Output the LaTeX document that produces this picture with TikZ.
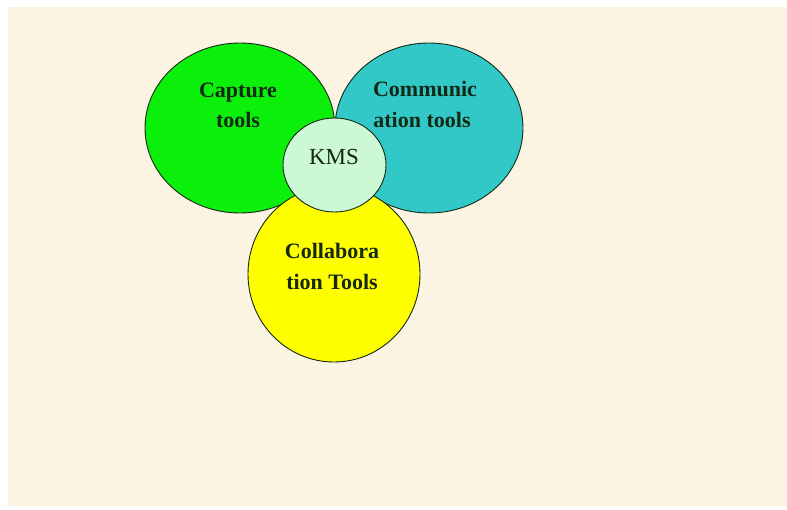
\documentclass[tikz,border=0pt]{standalone}
\usepackage{fontspec}
\setmainfont{Liberation Serif}
\usetikzlibrary{shapes.geometric}
\definecolor{bgbeige}{HTML}{FCF4E2}
\definecolor{capgreen}{HTML}{0BF00B}
\definecolor{comteal}{HTML}{33C8C8}
\definecolor{colyellow}{HTML}{FFFF00}
\definecolor{kmsgreen}{HTML}{CCF8D4}
\definecolor{inkdark}{HTML}{142814}
\tikzset{
  blob/.style={ellipse, draw=inkdark, line width=0.9pt, inner sep=0pt},
  lbl/.style={anchor=base, text=inkdark, font=\fontsize{22}{26}\selectfont\bfseries, inner sep=0pt},
  kmslbl/.style={anchor=base, text=inkdark, font=\fontsize{23}{27}\selectfont, inner sep=0pt}
}
\begin{document}
\begin{tikzpicture}[x=1pt,y=-1pt]
\useasboundingbox (0,0) rectangle (787,509);
\fill[white] (0,0) rectangle (787,509);
\fill[bgbeige] (8,7) rectangle (787,506);
\node[blob, fill=capgreen, minimum width=190pt, minimum height=170pt] (capture) at (240,128) {};
\node[blob, fill=comteal, minimum width=188pt, minimum height=170pt] (comm) at (429,128) {};
\node[blob, fill=colyellow, minimum width=172pt, minimum height=176pt] (collab) at (334,274) {};
\node[blob, fill=kmsgreen, minimum width=103pt, minimum height=94pt] (kms) at (334.5,165) {};
\node[lbl] (cap1) at (238,97) {Capture};
\node[lbl] (cap2) at (238,127) {tools};
\node[lbl] (com1) at (425,96) {Communic};
\node[lbl] (com2) at (422,127) {ation tools};
\node[lbl] (col1) at (332,258) {Collabora};
\node[lbl] (col2) at (332,289) {tion Tools};
\node[kmslbl] (kmst) at (334,164) {KMS};
\end{tikzpicture}
\end{document}
